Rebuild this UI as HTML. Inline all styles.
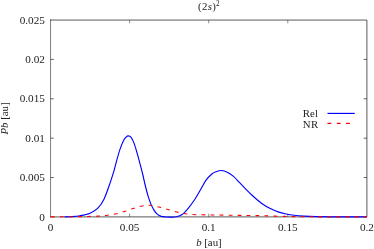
<!DOCTYPE html>
<html><head><meta charset="utf-8"><style>
html,body{margin:0;padding:0;background:#fff;}
body{width:374px;height:249px;overflow:hidden;font-family:"Liberation Serif",serif;}
svg{display:block;will-change:transform;opacity:0.999}
.t,.t text,.t tspan{font-family:"Liberation Serif",serif;}
</style></head><body>
<svg width="374" height="249" viewBox="0 0 374 249">
<path d="M50.55 216.9V20.05" fill="none" stroke="#000" stroke-width="0.5" stroke-linecap="square"/>
<path d="M50.55 20.05H366.9V216.9H50.55" fill="none" stroke="#000" stroke-width="0.65" stroke-linecap="square"/>
<path d="M50.55 177.53h3.25M366.9 177.53h-3.25M50.55 138.16h3.25M366.9 138.16h-3.25M50.55 98.79h3.25M366.9 98.79h-3.25M50.55 59.42h3.25M366.9 59.42h-3.25" stroke="#000" stroke-width="0.6" fill="none"/>
<path d="M129.64 216.9v-3.25M129.64 20.05v3.25M208.72 216.9v-3.25M208.72 20.05v3.25M287.81 216.9v-3.25M287.81 20.05v3.25" stroke="#000" stroke-width="0.45" fill="none"/>
<path d="M64.50 216.90 C65.42 216.87 67.40 216.90 70.00 216.70 C72.60 216.50 76.75 216.28 80.10 215.70 C83.45 215.12 87.10 214.50 90.10 213.20 C93.10 211.90 95.77 210.28 98.10 207.90 C100.43 205.52 102.08 203.12 104.10 198.90 C106.12 194.68 108.52 187.42 110.20 182.60 C111.88 177.78 113.23 173.25 114.20 170.00 C115.17 166.75 115.03 166.58 116.00 163.10 C116.97 159.62 118.70 153.02 120.05 149.10 C121.40 145.18 123.09 141.60 124.10 139.60 C125.11 137.60 125.43 137.72 126.10 137.10 C126.77 136.48 127.27 135.85 128.10 135.90 C128.93 135.95 130.10 136.15 131.10 137.40 C132.10 138.65 133.10 140.78 134.10 143.40 C135.10 146.02 136.10 149.65 137.10 153.10 C138.10 156.55 139.13 160.45 140.10 164.10 C141.07 167.75 142.10 171.68 142.90 175.00 C143.70 178.32 144.08 180.65 144.90 184.00 C145.72 187.35 146.80 191.75 147.80 195.10 C148.80 198.45 149.87 201.60 150.90 204.10 C151.93 206.60 152.95 208.43 154.00 210.10 C155.05 211.77 155.98 213.05 157.20 214.10 C158.42 215.15 159.83 215.92 161.30 216.40 C162.77 216.88 164.38 216.88 166.00 217.00 C167.62 217.12 169.25 217.13 171.00 217.10 C172.75 217.07 174.63 217.23 176.50 216.80 C178.37 216.37 180.25 215.92 182.20 214.50 C184.15 213.08 186.20 210.67 188.20 208.30 C190.20 205.93 192.20 203.30 194.20 200.30 C196.20 197.30 198.25 193.62 200.20 190.30 C202.15 186.98 203.97 183.12 205.90 180.40 C207.83 177.68 210.15 175.43 211.80 174.00 C213.45 172.57 214.22 172.38 215.80 171.80 C217.38 171.22 219.38 170.43 221.30 170.50 C223.22 170.57 225.27 171.22 227.30 172.20 C229.33 173.18 231.45 174.65 233.50 176.40 C235.55 178.15 237.55 180.58 239.60 182.70 C241.65 184.82 243.77 187.05 245.80 189.10 C247.83 191.15 250.00 193.30 251.80 195.00 C253.60 196.70 254.82 197.82 256.60 199.30 C258.38 200.78 260.22 202.35 262.50 203.90 C264.78 205.45 267.70 207.27 270.30 208.60 C272.90 209.93 275.47 211.00 278.10 211.90 C280.73 212.80 283.43 213.43 286.10 214.00 C288.77 214.57 291.10 214.95 294.10 215.30 C297.10 215.65 300.42 215.88 304.10 216.10 C307.78 216.32 311.55 216.47 316.20 216.60 C320.85 216.72 326.37 216.80 332.00 216.85 C337.63 216.90 344.18 216.89 350.00 216.90 C355.82 216.91 364.08 216.90 366.90 216.90" stroke="#0000ff" stroke-width="1.15" fill="none"/>
<path d="M51.00 216.90 C54.17 216.88 64.33 216.81 70.00 216.75 C75.67 216.69 80.33 216.66 85.00 216.55 C89.67 216.44 94.23 216.32 98.00 216.10 C101.77 215.88 104.52 215.60 107.60 215.20 C110.68 214.80 113.55 214.37 116.50 213.70 C119.45 213.03 122.50 212.08 125.30 211.20 C128.10 210.32 130.85 209.20 133.30 208.40 C135.75 207.60 138.05 206.88 140.00 206.40 C141.95 205.92 143.67 205.68 145.00 205.50 C146.33 205.32 146.83 205.30 148.00 205.30 C149.17 205.30 149.85 205.12 152.00 205.50 C154.15 205.88 157.95 206.85 160.90 207.60 C163.85 208.35 166.77 209.20 169.70 210.00 C172.63 210.80 175.57 211.73 178.50 212.40 C181.43 213.07 184.35 213.62 187.30 214.00 C190.25 214.38 191.58 214.53 196.20 214.70 C200.82 214.87 208.53 214.90 215.00 215.00 C221.47 215.10 229.17 215.22 235.00 215.30 C240.83 215.38 245.00 215.42 250.00 215.50 C255.00 215.58 259.17 215.65 265.00 215.80 C270.83 215.95 279.17 216.25 285.00 216.40 C290.83 216.55 292.50 216.62 300.00 216.70 C307.50 216.78 318.85 216.87 330.00 216.90 C341.15 216.93 360.75 216.90 366.90 216.90" stroke="#ff0000" stroke-width="1.08" fill="none" stroke-dasharray="3.8 5.2"/>
<path d="M327.5 113.4H354.8" stroke="#0000ff" stroke-width="1.15"/>
<path d="M327.5 123.4H354.8" stroke="#ff0000" stroke-width="1.08" stroke-dasharray="3.7 5.6"/>
<g class="t" font-size="10.8" fill="#222"><text x="44.9" y="220.60" text-anchor="end" font-size="11.2">0</text><text x="44.9" y="181.23" text-anchor="end" font-size="11.2">0.005</text><text x="44.9" y="141.86" text-anchor="end" font-size="11.2">0.01</text><text x="44.9" y="102.49" text-anchor="end" font-size="11.2">0.015</text><text x="44.9" y="63.12" text-anchor="end" font-size="11.2">0.02</text><text x="44.9" y="23.75" text-anchor="end" font-size="11.2">0.025</text><text x="50.55" y="231.1" text-anchor="middle" font-size="11.2">0</text><text x="129.64" y="231.1" text-anchor="middle" font-size="11.2">0.05</text><text x="208.72" y="231.1" text-anchor="middle" font-size="11.2">0.1</text><text x="287.81" y="231.1" text-anchor="middle" font-size="11.2">0.15</text><text x="366.90" y="231.1" text-anchor="middle" font-size="11.2">0.2</text><text x="302.8" y="117.3" letter-spacing="0.1">Rel</text><text x="302.8" y="127.8" letter-spacing="0.5">NR</text><text x="209" y="9.6" text-anchor="middle" letter-spacing="0.3">(2<tspan font-style="italic">s</tspan>)<tspan font-size="7.2" dy="-3.5">2</tspan></text><text x="208.9" y="245.9" text-anchor="middle"><tspan font-style="italic">b</tspan> [au]</text><text transform="translate(8,118.5) rotate(-90)" text-anchor="middle"><tspan font-style="italic">Pb</tspan> [au]</text></g>
</svg>
</body></html>
